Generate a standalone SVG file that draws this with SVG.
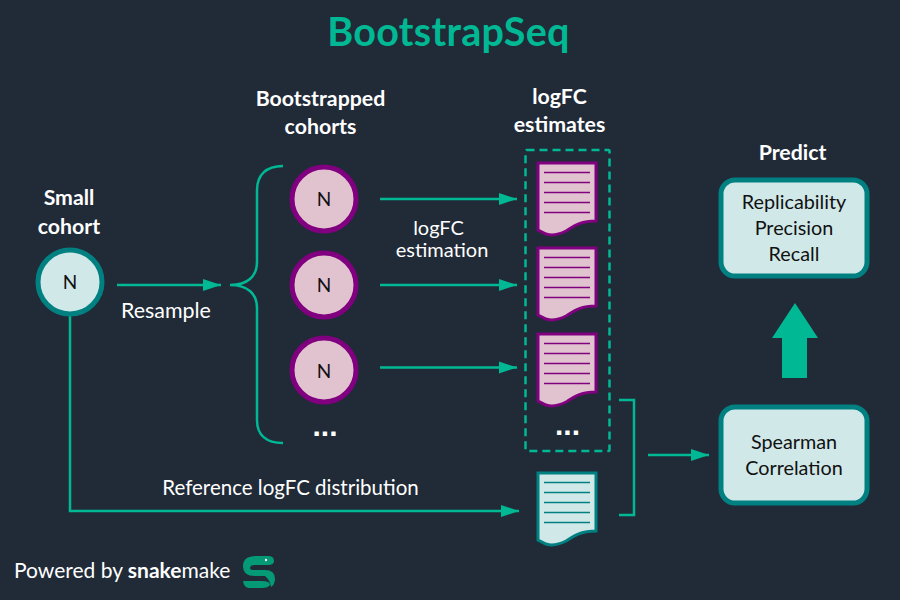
<svg xmlns="http://www.w3.org/2000/svg" width="900" height="600" viewBox="0 0 900 600">
<style>
text{font-family:Lato,"Noto Sans",sans-serif;fill:#fff;text-anchor:middle;font-size:20.500px}
.b{font-weight:700;font-size:21.300px}
.n{fill:#111;font-size:19px}
.d{fill:#111;font-size:19.800px}
.e{font-size:20px}
.dots{font-family:"Liberation Sans",sans-serif;font-weight:700;font-size:30px}
.l{fill:none;stroke:#00b894;stroke-width:2.500}
.p{fill:#e0c3cf;stroke:#800080;stroke-width:3}
.t{fill:#d0e8e8;stroke:#008080;stroke-width:3}
.pl{stroke:#800080;stroke-width:1.500}
.tl{stroke:#008080;stroke-width:1.500}
.box{fill:#d0e8e8;stroke:#008080;stroke-width:5}
</style>
<defs>
<marker id="a" markerUnits="userSpaceOnUse" markerWidth="20" markerHeight="14" refX="18" refY="7" orient="auto"><path d="M0 1L18 7L0 13Z" fill="#00b894"/></marker>
<path id="doc" d="M538 163H596V221C580 221 574 226 566 231C558 235 552 236 546 234L538 230Z"/>
<path id="ln" d="M544 172.500H590M544 182.500H590M544 192.500H590M544 202.500H590M544 212.500H590"/>
</defs>
<rect width="900" height="600" fill="#212b38"/>
<text x="448.500" y="45.500" style="font-size:39.500px;font-weight:700;fill:#00b894;letter-spacing:.3px">BootstrapSeq</text>
<g id="connectors">
<path class="l" marker-end="url(#a)" d="M117 285H221"/>
<path class="l" d="M283 166C266 166 257 175 257 190V262C257 276 248 285 230 285C248 285 257 294 257 308V420C257 435 266 443 283 443"/>
<path class="l" marker-end="url(#a)" d="M380 199H517"/>
<path class="l" marker-end="url(#a)" d="M380 285H517"/>
<path class="l" marker-end="url(#a)" d="M380 367.500H517"/>
<path class="l" marker-end="url(#a)" d="M70 316V511H519"/>
<path class="l" d="M619 400H634V515H619"/>
<path class="l" marker-end="url(#a)" d="M648 455H709"/>
<rect x="525.500" y="150" width="84" height="301" rx="1" fill="none" stroke="#00b894" stroke-width="2.500" stroke-dasharray="8 5"/>
<path fill="#00b894" d="M795 303L818 338H807V378H782V338H772Z"/>
</g>
<g id="small-cohort"><circle cx="70" cy="282" r="32" class="t" style="stroke-width:5"/><text class="n" x="70" y="289">N</text><text class="b" x="69" y="205">Small</text><text class="b" x="69" y="234">cohort</text></g>
<g id="boot-1"><circle cx="324" cy="199" r="32" class="p" style="stroke-width:5"/><text class="n" x="324" y="206">N</text></g>
<g id="boot-2"><circle cx="324" cy="285" r="32" class="p" style="stroke-width:5"/><text class="n" x="324" y="292">N</text></g>
<g id="boot-3"><circle cx="324" cy="370" r="32" class="p" style="stroke-width:5"/><text class="n" x="324" y="378">N</text></g>
<g id="doc-1"><use href="#doc" class="p"/><use href="#ln" class="pl"/></g>
<g id="doc-2" transform="translate(0 85)"><use href="#doc" class="p"/><use href="#ln" class="pl"/></g>
<g id="doc-3" transform="translate(0 171)"><use href="#doc" class="p"/><use href="#ln" class="pl"/></g>
<g id="doc-ref" transform="translate(0 310)"><use href="#doc" class="t"/><use href="#ln" class="tl"/></g>
<g id="predict"><rect x="721" y="180" width="146" height="96" rx="14" class="box"/><text class="d" x="794" y="209">Replicability</text><text class="d" x="794" y="235">Precision</text><text class="d" x="794" y="261">Recall</text></g>
<g id="spearman"><rect x="721" y="407" width="146" height="96" rx="14" class="box"/><text class="d" x="794" y="449">Spearman</text><text class="d" x="794" y="475">Correlation</text></g>
<g id="labels">
<text class="b" x="320.500" y="106">Bootstrapped</text><text class="b" x="320.500" y="134">cohorts</text>
<text class="b" x="559.500" y="104">logFC</text><text class="b" x="559.500" y="132">estimates</text>
<text class="b" x="792.500" y="160">Predict</text>
<text x="166" y="318" style="font-size:21.400px">Resample</text>
<text class="e" x="438.500" y="235">logFC</text><text class="e" x="442" y="257">estimation</text>
<text x="290.500" y="495">Reference logFC distribution</text>
<text class="dots" x="325" y="436">...</text>
<text class="dots" x="567.500" y="435">...</text>
</g>
<g id="footer"><text x="14" y="578" style="text-anchor:start;font-size:21px">Powered by <tspan font-weight="700">snake</tspan>make</text>
<path fill="#049a75" d="M256 556H268Q274 556 274 561Q274 565 268 565H255Q250 565 250 568Q250 570 254 570H265Q275 570 275 579Q275 584 271 587Q270 580 265 576H255Q243 576 243 566Q243 556 256 556Z"/><path fill="#049a75" d="M243 581H262Q270 581 270 585Q268 588 262 588H249Q244 588 243 581Z"/><circle cx="266" cy="560" r="1.200" fill="#fff"/></g>
</svg>
